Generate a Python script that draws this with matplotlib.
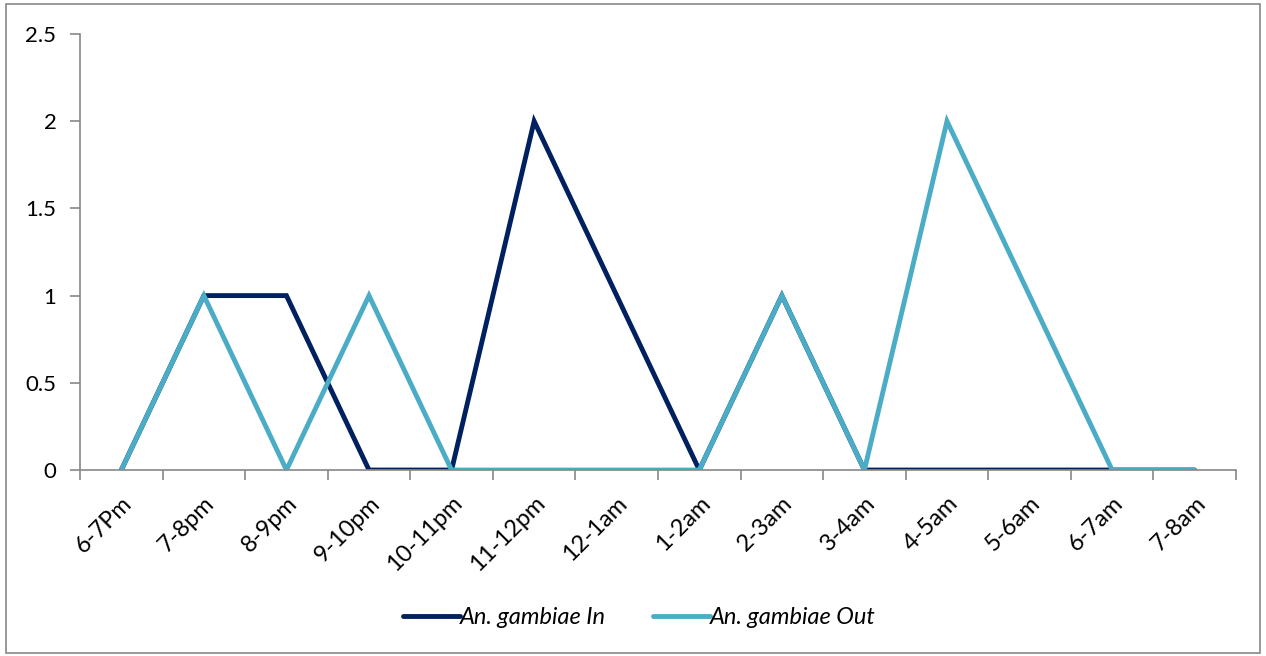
import matplotlib
matplotlib.use("Agg")
import matplotlib.pyplot as plt
from matplotlib.patches import Rectangle

plt.rcParams['font.family'] = ['Lato', 'DejaVu Sans']

hours = ['6-7Pm', '7-8pm', '8-9pm', '9-10pm', '10-11pm', '11-12pm', '12-1am',
         '1-2am', '2-3am', '3-4am', '4-5am', '5-6am', '6-7am', '7-8am']
gambiae_in = [0, 1, 1, 0, 0, 2, 1, 0, 1, 0, 0, 0, 0, 0]
gambiae_out = [0, 1, 0, 1, 0, 0, 0, 0, 1, 0, 2, 1, 0, 0]

fig = plt.figure(figsize=(12.66, 6.56), dpi=100)
ax = fig.add_axes([0.0632, 0.2835, 0.9131, 0.6647])

x = range(len(hours))
ax.plot(x, gambiae_in, color='#002060', lw=3.5, label='An. gambiae In',
        solid_capstyle='round', solid_joinstyle='miter')
ax.plot(x, gambiae_out, color='#4BACC6', lw=3.5, label='An. gambiae Out',
        solid_capstyle='round', solid_joinstyle='miter')

ax.set_xlim(-0.5, len(hours) - 0.5)
ax.set_ylim(0, 2.5)
ax.set_yticks([0, 0.5, 1, 1.5, 2, 2.5])
ax.set_yticklabels(['0', '0.5', '1', '1.5', '2', '2.5'], fontsize=16)

# category boundaries get the ticks, labels sit at the centres
ax.set_xticks([i - 0.5 for i in range(len(hours) + 1)])
ax.set_xticklabels([])
ax.set_xticks(list(x), minor=True)
ax.set_xticklabels(hours, minor=True, rotation=45, ha='right', va='top',
                   rotation_mode='anchor', fontsize=17)
ax.tick_params(axis='x', which='minor', length=0, pad=16)
ax.tick_params(axis='x', which='major', length=7, width=1.2, color='#888888')
ax.tick_params(axis='y', length=7, width=1.2, color='#888888', pad=10)

for s in ['top', 'right']:
    ax.spines[s].set_visible(False)
for s in ['left', 'bottom']:
    ax.spines[s].set_color('#888888')
    ax.spines[s].set_linewidth(1.2)

leg = fig.legend(loc='center', bbox_to_anchor=(0.505, 0.058), ncol=2,
                 frameon=False, handlelength=2.4, handletextpad=0.0,
                 columnspacing=2.0, prop={'style': 'italic', 'size': 17})

fig.patches.append(Rectangle((0.005, 0.004), 0.99, 0.99, transform=fig.transFigure,
                             fill=False, edgecolor='#888888', lw=1.2))

fig.savefig('out.png', dpi=100)
